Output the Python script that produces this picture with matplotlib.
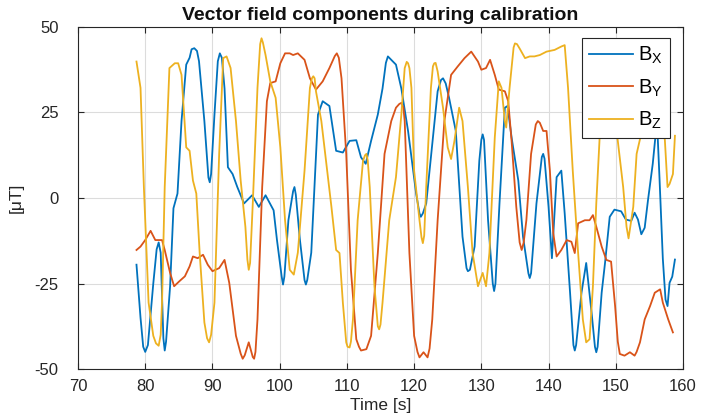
import matplotlib
matplotlib.use("Agg")
import matplotlib.pyplot as plt

plt.rcParams['font.family'] = ['Liberation Sans', 'DejaVu Sans']
plt.rcParams['mathtext.fontset'] = 'custom'
plt.rcParams['mathtext.rm'] = 'Liberation Sans'
plt.rcParams['axes.unicode_minus'] = False

# ---- data ----
t_x = [78.7, 79.3, 79.7, 80.0, 80.4, 81.2, 81.7, 82.0, 82.3, 82.7, 82.9, 83.1, 83.7, 84.2, 84.8,
       85.4, 86.1, 86.6, 86.9, 87.3, 87.7, 88.0, 88.8, 89.4, 89.6, 89.8, 90.3, 90.8, 91.1, 91.4,
       91.8, 92.3, 93.0, 93.7, 94.7, 95.9, 96.9, 97.9, 99.1, 99.6, 100.3, 100.5, 100.7, 101.3,
       102.0, 102.2, 102.4, 103.0, 103.7, 103.9, 104.1, 104.7, 105.7, 106.4, 107.4, 108.4, 109.4,
       110.4, 111.4, 112.1, 112.8, 113.6, 114.6, 115.3, 115.8, 116.1, 116.8, 117.3, 118.1, 119.1,
       120.3, 120.8, 121.0, 121.3, 121.8, 122.8, 123.5, 124.0, 124.3, 124.7, 125.2, 126.2, 127.2,
       127.8, 128.0, 128.3, 129.0, 129.7, 130.0, 130.2, 130.4, 131.0, 131.7, 131.9, 132.1, 132.7,
       133.5, 133.9, 134.5, 135.5, 136.2, 137.0, 137.2, 137.4, 138.2, 139.0, 139.2, 139.4, 140.0,
       140.5, 141.2, 141.9, 142.4, 143.2, 143.7, 143.9, 144.1, 144.9, 145.6, 146.4, 146.9, 147.1,
       147.3, 147.9, 148.4, 149.1, 149.8, 150.8, 151.5, 152.3, 152.8, 153.3, 153.8, 154.3, 154.8,
       155.5, 155.9, 156.2, 156.5, 157.0, 157.4, 157.7, 158.0, 158.4, 158.8]
b_x = [-19.5, -35, -43.5, -45, -43, -25, -15, -13, -16, -41, -44.6, -42, -25.8, -3, 1.3,
       22.5, 39, 41, 43.5, 43.8, 43, 40, 22.5, 6, 4.6, 7, 24.4, 40, 42.3, 41,
       32, 9, 7, 3.2, -1.6, 0.8, -2.6, 0.8, -3.6, -12.3, -23, -25.3, -23, -6.5,
       2, 3.2, 1, -12, -24, -25.3, -24, -16, 24.4, 28.3, 26.9, 13.8, 13.3,
       16.7, 16.9, 11.9, 10, 16.7, 24.4, 32, 39.5, 41.4, 40, 39, 32, 19.6,
       1.3, -4.5, -5.5, -4.5, -1.6, 17.7, 31.2, 34.5, 35, 33.5, 29.3, 19.6, -11.3,
       -20.5, -21.4, -21, -14.2, 10.9, 17, 18.6, 17, -6.5, -25, -27.2, -25, -1.6,
       26.4, 26.9, 17.7, 5.1, -11.3, -22, -23.4, -22, -1.6, 12, 12.9, 11.5, -2.6,
       -17.6, 6.1, 8, -4.5, -27.7, -43, -44.6, -43, -27.7, -19, -33.5, -43.5, -45.1,
       -43.5, -27.7, -19, -5.5, -3.4, -3.9, -6.3, -6.7, -4.3, -6.3, -10.6, -8.7, -0.5,
       10, 18, 19.5, 6, -17.8, -29.7, -31.6, -24.8, -23, -18]

t_y = [78.7, 79.3, 80.0, 80.8, 81.5, 82.5, 82.9, 83.7, 84.3, 85.1, 85.9, 86.6, 87.1, 87.8, 88.6,
       89.3, 90.0, 91.0, 91.8, 92.5, 93.5, 94.2, 94.5, 94.8, 95.4, 96.0, 96.2, 96.4, 96.7, 97.4,
       98.1, 98.6, 99.4, 100.1, 100.8, 101.5, 102.0, 102.7, 103.7, 104.5, 105.4, 106.4, 107.4,
       108.2, 108.5, 108.8, 109.2, 109.9, 110.6, 111.4, 111.8, 112.1, 112.9, 113.6, 114.6, 115.6,
       116.6, 117.3, 117.8, 118.1, 118.4, 118.6, 119.3, 120.0, 120.5, 120.8, 121.4, 122.0, 122.3,
       122.7, 123.5, 124.5, 125.5, 126.5, 127.5, 128.5, 129.5, 130.0, 130.7, 131.3, 132.0, 132.6,
       133.5, 134.0, 134.5, 135.2, 135.7, 136.0, 136.3, 136.7, 137.4, 138.1, 138.4, 138.7, 139.2,
       139.7, 140.2, 140.7, 141.2, 141.9, 142.7, 143.4, 143.9, 144.4, 145.4, 146.1, 146.6, 147.1,
       147.9, 148.6, 149.3, 149.9, 150.3, 150.6, 151.3, 152.1, 152.8, 153.1, 153.6, 154.3, 155.1,
       155.8, 156.6, 157.0, 157.8, 158.5]
b_y = [-15.2, -14.2, -12.3, -9.6, -12.3, -12.3, -15.2, -21.9, -25.8, -24.3, -22.9, -20, -17.1, -17.6, -16.6,
       -19.5, -21.4, -20.5, -18.1, -24.8, -40.3, -45.5, -47, -46, -42.2, -46.5, -47, -45, -35.5, 3.2,
       28.3, 33.6, 34.1, 39.4, 42.3, 42.3, 41.8, 42.3, 40.4, 35, 31.7, 34.1, 38,
       41.5, 42.3, 41, 35, 12.9, -21, -41.3, -43.5, -44.6, -44.2, -40.3, -16.1, 12.9,
       22.5, 26.4, 27.5, 27.8, 26.5, 22.5, -16.1, -40.3, -45, -46.6, -45.1, -46.6, -44,
       -35.5, -6.5, 22.5, 36, 38.5, 40.9, 42.8, 39.9, 37.5, 38, 40.4, 36, 31.7,
       31.2, 28.3, 16.7, -2.6, -13, -15.2, -13, -6.5, 12.9, 21.5, 22.5, 22, 19.6,
       19.6, 8, -10.3, -17.1, -15.2, -12.3, -12.8, -16.1, -7.4, -6.5, -6.5, -5, -8.4,
       -14.2, -18.1, -18.6, -31.6, -42, -45.6, -46.1, -45.1, -46.1, -45, -42.2, -35.5, -31.6,
       -27.7, -26.7, -30.6, -35.5, -39.3]

t_z = [78.7, 79.3, 79.8, 80.5, 81.2, 81.6, 82.0, 82.3, 82.5, 82.9, 83.6, 84.4, 84.9, 85.4, 86.1,
       86.6, 87.1, 87.6, 88.1, 88.8, 89.2, 89.5, 89.8, 90.3, 91.0, 91.6, 92.1, 92.7, 93.5, 94.2,
       94.9, 95.2, 95.4, 95.6, 96.0, 96.7, 97.1, 97.3, 97.5, 97.9, 98.6, 99.4, 100.1, 100.8,
       101.5, 102.1, 102.7, 103.7, 104.5, 104.8, 105.0, 105.2, 105.4, 106.2, 106.9, 107.7, 108.4,
       108.9, 109.4, 109.9, 110.1, 110.4, 110.6, 110.9, 111.6, 112.4, 112.7, 112.9, 113.1, 113.4,
       114.1, 114.6, 114.8, 115.0, 115.3, 116.3, 117.3, 118.1, 118.6, 118.9, 119.1, 119.3, 119.6,
       120.0, 120.8, 121.1, 121.3, 121.5, 121.8, 122.5, 122.8, 123.0, 123.2, 123.5, 124.3, 125.0,
       125.5, 126.0, 126.7, 127.2, 128.0, 128.7, 129.5, 130.2, 130.7, 131.2, 132.0, 132.6, 133.0,
       133.5, 133.7, 134.2, 134.8, 135.0, 135.3, 135.7, 136.5, 137.2, 137.9, 138.7, 139.7, 140.9,
       141.9, 142.4, 142.9, 143.6, 144.4, 145.1, 145.6, 146.1, 146.6, 147.1, 147.6, 148.8, 150.3,
       151.1, 151.6, 151.9, 152.6, 153.1, 153.6, 155.5, 157.3, 157.7, 158.0, 158.5, 158.8]
b_z = [39.9, 32.2, 3.2, -30.6, -40.3, -42.5, -43.2, -40, -30.6, 3.2, 38, 39.4, 39.4, 36, 14.8,
       13.8, 5.1, 1.3, -16.1, -36.4, -41, -42.2, -40, -30.6, 12.9, 40.9, 41.4, 38, 22.5, 5.1,
       -8.4, -18, -21, -19, -1.6, 32.2, 45, 46.7, 45.5, 41.8, 34.1, 29.3, 14.8, -6.5,
       -21, -22.4, -16, 8, 32.2, 35, 35.6, 35, 31.2, 22.5, 10.9, -2.6, -15.2,
       -16.1, -30.6, -42.2, -43.5, -43.7, -42, -35.5, -6.5, 10.9, 12.5, 12.9, 11, 3.2,
       -25.8, -37.5, -38.4, -37, -30.6, -6.5, 6.1, 24.4, 38, 39.8, 39.4, 38, 32.2,
       8, -6.5, -11.5, -13.2, -11, 3.2, 32.2, 38.5, 39.4, 39.5, 37, 26.4, 14.8,
       11.4, 16.7, 26.4, 22.5, 3.2, -16.1, -25.8, -21.9, -25.8, -16.1, 17.7, 34.1, 32.2,
       22.5, 20.6, 32.2, 44, 45.2, 45, 43.7, 40.9, 41.4, 41.4, 41.8, 42.8, 43.3,
       44.3, 44.7, 32.2, 8, -16.1, -35.5, -42.2, -41.3, -25.8, -1.6, 17.7, 40, 16.7,
       3.2, -8.4, -11.8, -2.6, 12.9, 17.2, 35, 17, 3.2, 4.1, 7, 18.2]

labels = ['B$_{\\mathregular{X}}$', 'B$_{\\mathregular{Y}}$', 'B$_{\\mathregular{Z}}$']
colors = ['#0072BD', '#D95319', '#EDB120']
x_ticks = [70, 80, 90, 100, 110, 120, 130, 140, 150, 160]
y_ticks = [-50, -25, 0, 25, 50]

fig = plt.figure(figsize=(7.18, 4.19), dpi=100)
ax = fig.add_axes([78/718, 50/419, (683-78)/718, (369-27)/419])

ax.plot(t_x, b_x, color=colors[0], lw=1.3, label=labels[0])
ax.plot(t_y, b_y, color=colors[1], lw=1.3, label=labels[1])
ax.plot(t_z, b_z, color=colors[2], lw=1.3, label=labels[2])

ax.set_xlim(70, 160)
ax.set_ylim(-50, 50)
ax.set_xticks(x_ticks)
ax.set_yticks(y_ticks)
ax.grid(True, color='#dcdcdc', lw=0.8)
ax.set_axisbelow(True)
ax.tick_params(direction='in', length=4, top=True, right=True, labelsize=12,
               colors='#262626', width=0.8)
ax.tick_params(axis='x', pad=7)
ax.tick_params(axis='y', pad=14)
for s in ax.spines.values():
    s.set_color('#262626')
    s.set_linewidth(0.8)

ax.set_title('Vector field components during calibration', fontsize=14,
             fontweight='bold', color='#111111', pad=5)
ax.set_xlabel('Time [s]', fontsize=12.5, color='#262626', labelpad=3)
ax.set_ylabel('[\u03bcT]', fontsize=12.5, color='#262626', labelpad=8)

leg = ax.legend(loc='upper right', bbox_to_anchor=(1 - 13/605, 1 - 11/342),
                fontsize=14.5, frameon=True, fancybox=False, framealpha=1,
                edgecolor='#262626', handlelength=2.2, borderpad=0.35,
                labelspacing=0.55, handletextpad=0.25, borderaxespad=0)
leg.get_frame().set_linewidth(0.8)

fig.savefig('out.png', dpi=100)
